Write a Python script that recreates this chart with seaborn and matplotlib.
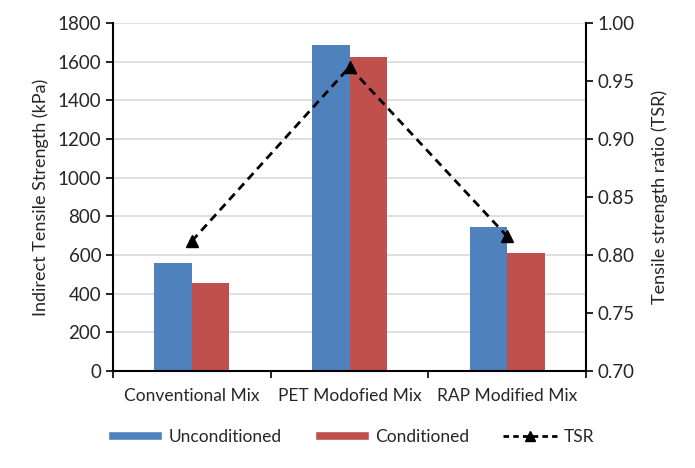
import pandas as pd
import matplotlib.pyplot as plt
import seaborn as sns
from matplotlib.lines import Line2D
from matplotlib.patches import Patch

sns.set_theme(style="white")
plt.rcParams['font.family'] = ['Lato', 'DejaVu Sans']

mixes = ["Conventional Mix", "PET Modofied Mix", "RAP Modified Mix"]
unconditioned = [557, 1686, 743]
conditioned = [454, 1622, 609]
tsr = [0.812, 0.962, 0.816]

df = pd.DataFrame({
    "Mix": mixes * 2,
    "ITS": unconditioned + conditioned,
    "Condition": ["Unconditioned"] * 3 + ["Conditioned"] * 3,
})
colors = {"Unconditioned": "#4F81BD", "Conditioned": "#C0504D"}

fig = plt.figure(figsize=(6.95, 4.68), dpi=100)
ax = fig.add_axes([0.1626, 0.2073, 0.6806, 0.7436])

sns.barplot(data=df, x="Mix", y="ITS", hue="Condition", palette=colors,
            width=0.475, saturation=1, linewidth=0, ax=ax, legend=False, zorder=2)
ax.set_ylim(0, 1800)
ax.set_yticks(range(0, 1801, 200))
ax.set_xlim(-0.5, 2.5)
ax.yaxis.grid(True, color="#d9d9d9", linewidth=1.2, zorder=0)
ax.set_axisbelow(True)
ax.set_xlabel("")
ax.set_ylabel("Indirect Tensile Strength (kPa)", fontsize=13, labelpad=6)
ax.tick_params(axis="x", length=0, labelsize=12.5, pad=12)
ax.set_xticks([-0.5, 0.5, 1.5, 2.5], minor=True)
ax.tick_params(axis="x", which="minor", length=5, width=1.2, color="black", direction="out")
ax.tick_params(axis="y", length=5, width=1.2, color="black", direction="out", labelsize=13.5)
ax.tick_params(axis="both", which="both", bottom=True, left=True)
for s in ["left", "bottom"]:
    ax.spines[s].set_color("black")
    ax.spines[s].set_linewidth(1.5)
ax.spines["top"].set_visible(False)
ax.spines["right"].set_visible(False)

ax2 = ax.twinx()
ax2.plot(range(len(mixes)), tsr, color="black", linestyle="--", linewidth=2,
         marker="^", markersize=9, dashes=(3, 2))
ax2.set_ylim(0.70, 1.00)
ax2.set_yticks([0.70, 0.75, 0.80, 0.85, 0.90, 0.95, 1.00])
ax2.set_yticklabels([f"{v:.2f}" for v in ax2.get_yticks()])
ax2.set_ylabel("Tensile strength ratio (TSR)", fontsize=13, labelpad=12)
ax2.tick_params(axis="y", length=5, width=1.2, color="black", direction="out", labelsize=13.5, right=True)
ax2.spines["right"].set_color("black")
ax2.spines["right"].set_linewidth(1.5)
for s in ["top", "left", "bottom"]:
    ax2.spines[s].set_visible(False)

handles = [
    Patch(facecolor=colors["Unconditioned"], label="Unconditioned"),
    Patch(facecolor=colors["Conditioned"], label="Conditioned"),
    Line2D([0], [0], color="black", linestyle="--", linewidth=2, marker="^",
           markersize=7, dashes=(2, 1.5), label="TSR"),
]
fig.legend(handles=handles, loc="center", bbox_to_anchor=(0.505, 0.067), ncol=3,
           frameon=False, fontsize=12.5, handlelength=3.1, handleheight=0.5,
           columnspacing=1.9, handletextpad=0.4)

fig.savefig("out.png", dpi=100)
